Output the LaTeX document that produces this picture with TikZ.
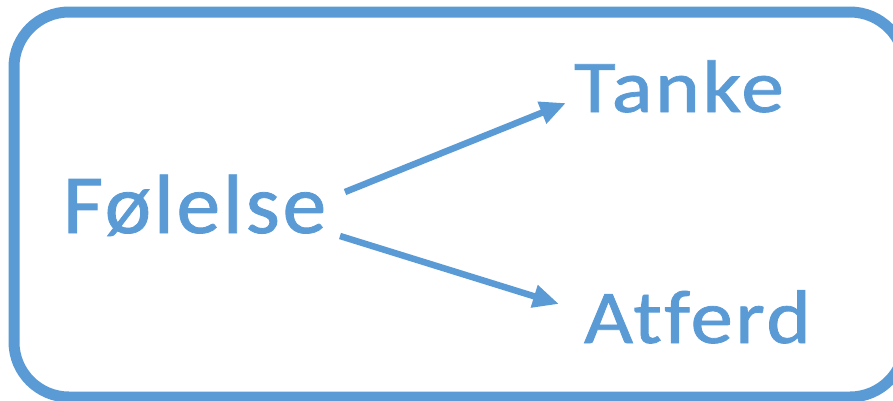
\documentclass[tikz,border=0pt]{standalone}
\usepackage{fontspec}
\newfontfamily\labelfont[FakeBold=1,LetterSpace=3,Ligatures={NoCommon,NoRare}]{Carlito}
\usetikzlibrary{arrows.meta}
\definecolor{accent}{HTML}{5B9BD5}
\tikzset{
  word/.style={anchor=base west, inner sep=0pt, outer sep=0pt, text=accent},
  link/.style={draw=accent, line width=6.5pt, -{Triangle[length=26pt,width=22pt]}},
  frame/.style={draw=accent, line width=11pt, rounded corners=55pt}
}
\begin{document}
\begin{tikzpicture}[x=1pt,y=-1pt]
  \useasboundingbox (0,0) rectangle (893,400);
  \draw[frame] (14,12) rectangle (905,397);
  \node[word, font=\labelfont\fontsize{84}{90}\selectfont] (fol) at (63,233) {\scalebox{1.045}[1]{Følelse}};
  \node[word, font=\labelfont\fontsize{74.4}{80}\selectfont] (tan) at (574,112) {\scalebox{1.15}[1]{Tanke}};
  \node[word, font=\labelfont\fontsize{76}{82}\selectfont] (atf) at (584,343) {\scalebox{1.115}[1]{Atferd}};
  \coordinate (s1) at (345,192);
  \coordinate (e1) at (566,103);
  \coordinate (s2) at (340,236);
  \coordinate (e2) at (559,304);
  \draw[link] (s1) -- (e1);
  \draw[link] (s2) -- (e2);
\end{tikzpicture}
\end{document}
